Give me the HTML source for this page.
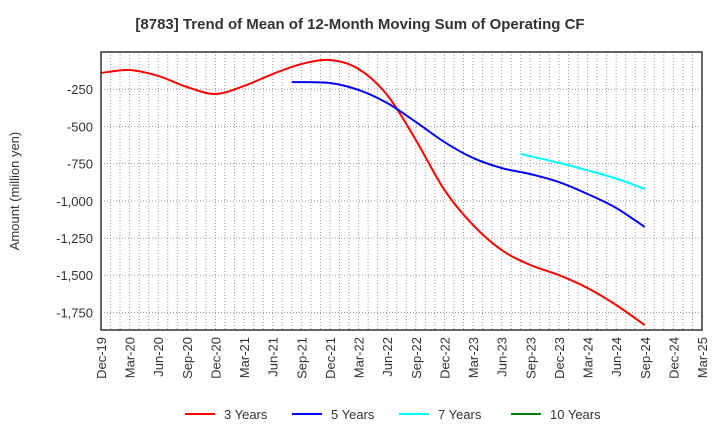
<!DOCTYPE html>
<html><head><meta charset="utf-8"><style>
body{margin:0;background:#fff;font-family:"Liberation Sans",sans-serif}
</style></head><body>
<svg id="c" width="720" height="440" xmlns="http://www.w3.org/2000/svg">
<text x="360" y="29" text-anchor="middle" font-size="15" font-weight="bold" fill="#333">[8783]  Trend of Mean of 12-Month Moving Sum of Operating CF</text>
<text transform="translate(19,191) rotate(-90)" text-anchor="middle" font-size="13" fill="#333">Amount (million yen)</text>
<g id="grid"></g><g id="series"></g><g id="axes"></g><g id="legend"></g>
</svg>
<script>
const xLabels=["Dec-19","Mar-20","Jun-20","Sep-20","Dec-20","Mar-21","Jun-21","Sep-21","Dec-21","Mar-22","Jun-22","Sep-22","Dec-22","Mar-23","Jun-23","Sep-23","Dec-23","Mar-24","Jun-24","Sep-24","Dec-24","Mar-25"];
const yTicks=[-250,-500,-750,-1000,-1250,-1500,-1750];
const monthsRed=[0,3,6,9,12,15,18,21,24,27,30,33,36,39,42,45,48,51,54,57];
const valsRed=[-141,-121,-161,-235,-282,-228,-148,-81,-54,-114,-289,-591,-927,-1163,-1331,-1431,-1499,-1586,-1700,-1835];
const monthsBlue=[20,24,27,30,33,36,39,42,45,48,51,54,57];
const valsBlue=[-202,-208,-255,-343,-470,-605,-712,-780,-820,-874,-954,-1048,-1176];
const monthsCyan=[44,48,51,54,57];
const valsCyan=[-685,-745,-795,-850,-920];
const seriesNames=["3 Years","5 Years","7 Years","10 Years"];
const seriesColors=["#ff0000","#0000ff","#00ffff","#008000"];
const L=101,R=702,T=52,B=330,YMAX=0,YMIN=-1868,MONTHS=63;
const NS="http://www.w3.org/2000/svg";
const xs=m=>L+(R-L)*m/MONTHS, ys=v=>T+(B-T)*(YMAX-v)/(YMAX-YMIN);
function mk(t,a,p){const e=document.createElementNS(NS,t);for(const k in a)e.setAttribute(k,a[k]);p.appendChild(e);return e;}
const g=document.getElementById('grid'),ax=document.getElementById('axes'),s=document.getElementById('series'),lg=document.getElementById('legend');
for(let m=1;m<MONTHS;m++){const l=mk('line',{x1:xs(m),x2:xs(m),y1:T,y2:B,stroke:'#999','stroke-dasharray':'1,2','stroke-width':1},g);

}
yTicks.forEach(v=>{const l=mk('line',{x1:L,x2:R,y1:ys(v),y2:ys(v),stroke:'#999','stroke-dasharray':'1,2'},g);


const t=mk('text',{x:L-8,y:ys(v)+5,'text-anchor':'end','font-size':13,fill:'#333'},ax);t.textContent=v.toLocaleString('en-US');

});
const fr=mk('rect',{x:L,y:T,width:R-L,height:B-T,fill:'none',stroke:'#333','stroke-width':1.5},ax);


xLabels.forEach((lab,i)=>{const x=xs(i*3);const t=mk('text',{transform:`translate(${x+5},337) rotate(-90)`,'text-anchor':'end','font-size':13,fill:'#333'},ax);t.textContent=lab;

});
function path(ms,vs){const p=ms.map((m,i)=>[xs(m),ys(vs[i])]);let d=`M${p[0][0]},${p[0][1]}`;
for(let i=0;i<p.length-1;i++){const p0=p[i-1]||p[i],p1=p[i],p2=p[i+1],p3=p[i+2]||p2;
d+=` C${p1[0]+(p2[0]-p0[0])/6},${p1[1]+(p2[1]-p0[1])/6} ${p2[0]-(p3[0]-p1[0])/6},${p2[1]-(p3[1]-p1[1])/6} ${p2[0]},${p2[1]}`;}return d;}
[[monthsRed,valsRed,0,'line-3-years'],[monthsBlue,valsBlue,1,'line-5-years'],[monthsCyan,valsCyan,2,'line-7-years']].forEach(([m,v,c,n])=>{
const e=mk('path',{d:path(m,v),fill:'none',stroke:seriesColors[c],'stroke-width':2},s);

});
const lx=[185,292,399,511];
seriesNames.forEach((n,i)=>{const l=mk('line',{x1:lx[i],x2:lx[i]+30,y1:414,y2:414,stroke:seriesColors[i],'stroke-width':2},lg);


const t=mk('text',{x:lx[i]+39,y:419,'font-size':13,fill:'#333'},lg);t.textContent=n;

});
</script>
</body></html>
